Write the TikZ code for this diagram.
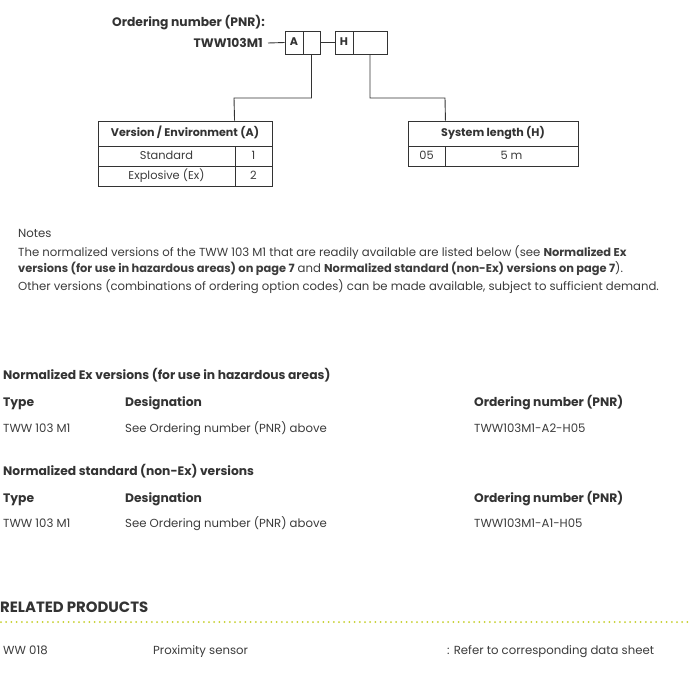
\documentclass[tikz,border=0pt]{standalone}
\usepackage{fontspec}
\setmainfont{Poppins}
\definecolor{txt}{HTML}{3C3C3C}
\definecolor{dark}{HTML}{333333}
\definecolor{dotc}{HTML}{C5CF2A}
\tikzset{
  lbl/.style={inner sep=0pt, anchor=base west, text=txt, font=\fontsize{11.7}{13}\selectfont},
  blbl/.style={lbl, text=dark, font=\fontsize{12.3}{14}\selectfont\bfseries},
  cell/.style={inner sep=0pt, text=txt, font=\fontsize{11.4}{13}\selectfont, text height=8pt, text depth=2pt},
  bcell/.style={cell, text=dark, font=\fontsize{11.1}{13}\selectfont\bfseries},
  ln/.style={draw=dark, line width=0.9pt},
}
\begin{document}
\begin{tikzpicture}[x=1pt,y=-1pt]
\useasboundingbox[fill=white] (0,0) rectangle (690,683);
% ordering number
\node[blbl] (pnrtitle) at (112,26) {Ordering number (PNR):};
\node[blbl, anchor=base east] (tww) at (263,47.5) {TWW103M1};
\coordinate (twwend) at (268,43);
% box A
\node[ln, minimum width=18pt, minimum height=23pt, inner sep=0pt, bcell] (aL) at (294,42.5) {A};
\node[ln, minimum width=17pt, minimum height=23pt, inner sep=0pt] (aR) at (311.5,42.5) {};
\node[ln, minimum width=18pt, minimum height=23pt, inner sep=0pt, bcell] (hL) at (344,42.5) {H};
\node[ln, minimum width=34pt, minimum height=23pt, inner sep=0pt] (hR) at (370,42.5) {};
\draw[ln] (twwend) -- (aL.west);
\draw[ln] (aR.east) -- (hL.west);
% table A
\node[ln, minimum width=174pt, minimum height=25pt, inner sep=0pt, bcell] (tAh) at (185,133.5) {Version / Environment (A)};
\node[ln, minimum width=137pt, minimum height=20pt, inner sep=0pt, cell] (tA1) at (166.5,156) {Standard};
\node[ln, minimum width=37pt, minimum height=20pt, inner sep=0pt, cell] (tA1v) at (253.5,156) {1};
\node[ln, minimum width=137pt, minimum height=20pt, inner sep=0pt, cell] (tA2) at (166.5,176) {Explosive (Ex)};
\node[ln, minimum width=37pt, minimum height=20pt, inner sep=0pt, cell] (tA2v) at (253.5,176) {2};
% table H
\node[ln, minimum width=170pt, minimum height=25pt, inner sep=0pt, bcell] (tHh) at (493,133.5) {System length (H)};
\node[ln, minimum width=37pt, minimum height=20pt, inner sep=0pt, cell] (tH1) at (426.5,156) {05};
\node[ln, minimum width=133pt, minimum height=20pt, inner sep=0pt, cell] (tH1v) at (511.5,156) {5 m};
% connectors
\draw[ln] (aR.south) |- (234,98) -- (tAh.north -| tA1v.west);
\draw[ln] (hR.south) |- (445,98) -- (tHh.north -| tH1.east);
% notes
\node[lbl] (notes) at (18,237.5) {Notes};
\node[lbl] (n1) at (18,256.5) {The normalized versions of the TWW 103 M1 that are readily available are listed below (see {\fontsize{11.4}{13}\selectfont\bfseries Normalized Ex}};
\node[lbl] (n2) at (18,272.5) {{\fontsize{11.4}{13}\selectfont\bfseries versions (for use in hazardous areas) on page 7} and {\fontsize{11.4}{13}\selectfont\bfseries Normalized standard (non-Ex) versions on page 7}).};
\node[lbl] (n3) at (18,290.5) {Other versions (combinations of ordering option codes) can be made available, subject to sufficient demand.};
% Ex section
\node[blbl] (s1) at (3,379.5) {Normalized Ex versions (for use in hazardous areas)};
\node[blbl] (s1t) at (3,406.5) {Type};
\node[blbl] (s1d) at (125,406.5) {Designation};
\node[blbl] (s1o) at (474,406.5) {Ordering number (PNR)};
\node[lbl] (s1r1) at (3,432.5) {TWW 103 M1};
\node[lbl] (s1r2) at (125,432.5) {See Ordering number (PNR) above};
\node[lbl] (s1r3) at (474,432.5) {TWW103M1-A2-H05};
% standard section
\node[blbl] (s2) at (3,475.5) {Normalized standard (non-Ex) versions};
\node[blbl] (s2t) at (3,502.5) {Type};
\node[blbl] (s2d) at (125,502.5) {Designation};
\node[blbl] (s2o) at (474,502.5) {Ordering number (PNR)};
\node[lbl] (s2r1) at (3,527.5) {TWW 103 M1};
\node[lbl] (s2r2) at (125,527.5) {See Ordering number (PNR) above};
\node[lbl] (s2r3) at (474,527.5) {TWW103M1-A1-H05};
% related
\node[blbl, font=\fontsize{14.9}{16}\selectfont\bfseries] (rel) at (0,612.5) {RELATED PRODUCTS};
\coordinate (dl) at (1,622);
\coordinate (dr) at (690,622);
\draw[dotc, line width=2pt, line cap=round, dash pattern=on 0pt off 5.2pt] (dl) -- (dr);
\node[lbl] (r1) at (3,654.5) {WW 018};
\node[lbl] (r2) at (153,654.5) {Proximity sensor};
\node[lbl] (r3) at (447,654.5) {: Refer to corresponding data sheet};
\end{tikzpicture}
\end{document}
